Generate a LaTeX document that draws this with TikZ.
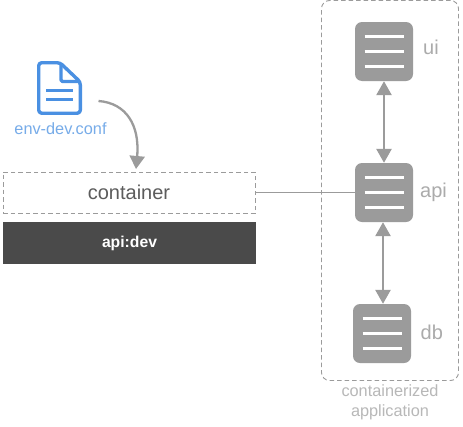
\documentclass[tikz,border=0pt]{standalone}
\usepackage{fontspec}
\setmainfont{Liberation Sans}
\usetikzlibrary{arrows.meta,calc}
\definecolor{grayfill}{HTML}{9B9B9B}
\definecolor{blueicon}{HTML}{4A90E2}
\definecolor{darkbar}{HTML}{4A4A4A}
\tikzset{
  x=1pt,y=-1pt,
  server/.style={draw=none,fill=grayfill,rounded corners=7pt,minimum width=58pt,minimum height=59pt,inner sep=0pt},
  barline/.style={white,line width=2.2pt},
  dashbox/.style={draw=grayfill,line width=0.9pt,dash pattern=on 4.5pt off 3pt},
  lbl/.style={text=black!33,font=\fontsize{20}{22}\selectfont,inner sep=0pt},
  biarrow/.style={draw=grayfill,line width=2.6pt,{Triangle[width=15pt,length=14pt]}-{Triangle[width=15pt,length=14pt]},shorten >=0pt,shorten <=0pt},
}
\newcommand{\serverlines}[1]{%
  \draw[barline] ($(#1.center)+(-19.5,-15)$) -- ($(#1.center)+(19.5,-15)$);
  \draw[barline] ($(#1.center)+(-19.5,0)$) -- ($(#1.center)+(19.5,0)$);
  \draw[barline] ($(#1.center)+(-19.5,15)$) -- ($(#1.center)+(19.5,15)$);
}
\begin{document}
\begin{tikzpicture}
\useasboundingbox (0,0) rectangle (463,426);
\fill[white] (0,0) rectangle (463,426);
% outer group
\node[dashbox,rounded corners=8pt,minimum width=137pt,minimum height=380pt,inner sep=0pt] (group) at (390,190.5) {};
\node[text=black!28,font=\fontsize{16.3}{20}\selectfont,align=center,inner sep=0pt] (grouplabel) at (390,402.5) {containerized\\application};
% servers
\node[server] (ui) at (384,51.5) {};
\node[server] (api) at (384,192.5) {};
\node[server] (db) at (382,333.5) {};
\serverlines{ui}\serverlines{api}\serverlines{db}
\node[lbl,anchor=west] (uilabel) at (423,47.5) {ui};
\node[lbl,anchor=west] (apilabel) at (420,192.5) {api};
\node[lbl,anchor=west] (dblabel) at (420.5,332) {db};
\draw[biarrow] (ui.south) -- (api.north);
\draw[biarrow] ([xshift=-1pt]api.south) -- ([xshift=1pt]db.north);
% container
\node[dashbox,minimum width=252pt,minimum height=41pt,inner sep=0pt,text=darkbar!90,font=\fontsize{20}{22}\selectfont] (container) at (129,192.5) {container};
\node[fill=darkbar,minimum width=253pt,minimum height=42pt,inner sep=0pt,text=white,font=\bfseries\fontsize{15.7}{18}\selectfont] (image) at (129.5,243) {api:dev};
\draw[grayfill,line width=1pt] (container.east) -- (api.west);
% file icon
\draw[blueicon,line width=3.4pt,line join=round,rounded corners=3pt] (38.7,62.7) -- (60,62.7) -- (80.3,82) -- (80.3,113.2) -- (38.7,113.2) -- cycle;
\draw[blueicon,line width=3.4pt,line join=round,rounded corners=1.5pt] (61,63) -- (61,81.5) -- (80,81.5);
\draw[blueicon,line width=3.5pt] (46,90.5) -- (73,90.5);
\draw[blueicon,line width=3.5pt] (46,99.5) -- (73,99.5);
\node[text=blueicon!75,font=\fontsize{16.3}{18}\selectfont,inner sep=0pt] (envlabel) at (60.5,128.5) {env-dev.conf};
\coordinate (curvestart) at (98.5,101);
\draw[draw=grayfill,line width=2.3pt,-{Triangle[width=15pt,length=13pt]}] (curvestart) .. controls (126,103) and (140,125) .. (136,169);
\end{tikzpicture}
\end{document}
